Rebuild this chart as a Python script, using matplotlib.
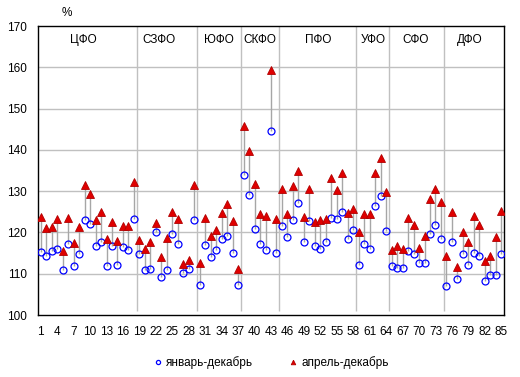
import numpy as np
import matplotlib
matplotlib.use("Agg")
import matplotlib.pyplot as plt

plt.rcParams["font.family"] = ["Liberation Sans", "DejaVu Sans"]

# region index 1..85
regions = np.arange(1, 86)

# январь-декабрь (circles)
jan_dec = [
    115.3, 114.2, 115.5, 116.1, 110.8, 117.1, 111.8, 114.7, 123.1, 122.0,
    116.6, 117.6, 111.8, 116.8, 112.2, 116.4, 115.8, 123.3, 114.7, 110.8,
    111.2, 120.1, 109.1, 111.0, 119.5, 117.2, 110.1, 111.2, 122.9, 107.2,
    116.9, 114.0, 115.8, 118.5, 119.1, 115.1, 107.2, 134.0, 129.1, 120.8,
    117.3, 115.7, 144.6, 114.9, 121.6, 118.8, 122.9, 127.2, 117.8, 122.8,
    116.6, 115.9, 117.6, 123.6, 123.3, 125.0, 118.3, 120.7, 112.2, 117.1,
    116.1, 126.4, 128.8, 120.4, 111.8, 111.3, 111.5, 115.4, 114.7, 112.7,
    112.6, 119.5, 121.8, 118.5, 107.0, 117.7, 108.7, 114.7, 112.2, 115.0,
    114.4, 108.3, 109.7, 109.7, 114.7,
]

# апрель-декабрь (triangles)
apr_dec = [
    123.8, 121.1, 121.3, 123.2, 115.4, 123.4, 117.4, 121.2, 131.4, 129.4,
    122.9, 125.0, 118.3, 122.6, 118.0, 121.6, 121.6, 132.2, 118.2, 116.1,
    117.7, 122.3, 114.0, 118.6, 124.9, 123.2, 112.3, 113.4, 131.5, 112.7,
    123.6, 119.1, 120.6, 124.6, 126.9, 122.7, 111.2, 145.7, 139.8, 131.8,
    124.5, 123.9, 159.4, 123.2, 130.4, 124.5, 131.3, 134.9, 123.8, 130.4,
    122.6, 122.9, 123.3, 133.3, 130.2, 134.3, 124.7, 125.6, 120.0, 124.5,
    124.5, 134.4, 138.0, 129.7, 115.8, 116.6, 116.1, 123.6, 121.9, 116.3,
    119.2, 128.2, 130.4, 127.4, 114.3, 124.9, 111.6, 120.0, 117.7, 124.0,
    121.7, 113.0, 114.2, 119.0, 125.3,
]

# federal districts: name, first index, last index
district_names = ["ЦФО", "СЗФО", "ЮФО", "СКФО", "ПФО", "УФО", "СФО", "ДФО"]
district_first = [1, 19, 30, 38, 45, 59, 65, 75]
district_last = [18, 29, 37, 44, 58, 64, 74, 85]
label_pos = [8.8, 22.6, 33.5, 40.9, 51.6, 61.6, 69.4, 79.3]

fig = plt.figure(figsize=(5.2, 3.77), dpi=100)
ax = fig.add_axes([38 / 520, 1 - 315 / 377, 466 / 520, 289 / 377])

ax.set_xlim(0.5, 85.5)
ax.set_ylim(100, 170)

# horizontal grid
for v in range(110, 170, 10):
    ax.axhline(v, color="#c0c0c0", lw=1, zorder=0)

# district separators
for last in district_last[:-1]:
    ax.vlines(last + 0.5, 101, 170, color="#c0c0c0", lw=1, zorder=0)

for name, xp in zip(district_names, label_pos):
    ax.text(xp, 166.6, name, ha="center", va="center", fontsize=8.5)

# hi-lo lines
ax.vlines(regions, jan_dec, apr_dec, color="#a6a6a6", lw=1, zorder=1)

ax.plot(regions, jan_dec, ls="none", marker="o", ms=5, mfc="none",
        mec="#0000ff", mew=0.9, zorder=3, label="январь-декабрь")
ax.plot(regions, apr_dec, ls="none", marker="^", ms=5.5, mfc="#e00000",
        mec="#b00000", mew=0.6, zorder=3, label="апрель-декабрь")

ax.set_xticks(np.arange(1, 86, 3))
ax.set_yticks(np.arange(100, 171, 10))
ax.tick_params(length=0, labelsize=8.5)
ax.tick_params(axis="y", pad=8)
ax.tick_params(axis="x", pad=8)
for sp in ax.spines.values():
    sp.set_color("black")
    sp.set_linewidth(1)

fig.text(67 / 520, 1 - 13 / 377, "%", ha="center", va="center", fontsize=8.5)

fig.legend(loc="center", bbox_to_anchor=(271 / 520, 1 - 363 / 377), ncol=2,
           frameon=False, fontsize=8.5, markerscale=0.6, handlelength=0.8,
           handletextpad=0.3, columnspacing=3)

fig.savefig("out.png", dpi=100)
